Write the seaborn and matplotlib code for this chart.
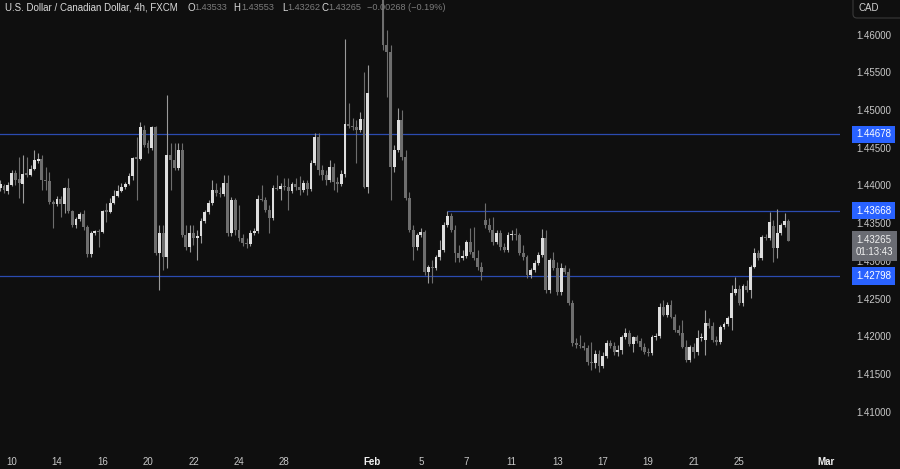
import matplotlib
matplotlib.use("Agg")
import matplotlib.pyplot as plt
import matplotlib.patches as mpatches
import matplotlib.transforms as mtransforms
import numpy as np
import seaborn as sns

# USD/CAD 4h candles, FXCM
opens = [1.4397, 1.4399, 1.4393, 1.4401, 1.4417, 1.4409, 1.4402, 1.4417, 1.4414, 1.4422,
         1.4432, 1.4435, 1.4407, 1.4406, 1.4378, 1.4375, 1.4382, 1.4375, 1.4397, 1.4366,
         1.4348, 1.4356, 1.4362, 1.4345, 1.4309, 1.4337, 1.4340, 1.4338, 1.4368, 1.4365,
         1.4377, 1.4386, 1.4393, 1.4398, 1.4402, 1.4413, 1.4438, 1.4435, 1.4474, 1.4456,
         1.4450, 1.4478, 1.4310, 1.4337, 1.4305, 1.4440, 1.4434, 1.4423, 1.4447, 1.4334,
         1.4318, 1.4337, 1.4330, 1.4333, 1.4353, 1.4365, 1.4377, 1.4394, 1.4390, 1.4389,
         1.4403, 1.4337, 1.4381, 1.4341, 1.4330, 1.4324, 1.4322, 1.4337, 1.4340, 1.4382,
         1.4381, 1.4368, 1.4357, 1.4397, 1.4395, 1.4399, 1.4398, 1.4393, 1.4402, 1.4398,
         1.4394, 1.4403, 1.4395, 1.4430, 1.4464, 1.4421, 1.4414, 1.4407, 1.4425, 1.4405,
         1.4402, 1.4415, 1.4482, 1.4479, 1.4478, 1.4474, 1.4488, 1.4398, 1.4750, 1.4770,
         1.4715, 1.4660, 1.4586, 1.4577, 1.4425, 1.4447, 1.4487, 1.4438, 1.4383, 1.4341,
         1.4318, 1.4334, 1.4338, 1.4285, 1.4292, 1.4291, 1.4305, 1.4315, 1.4348, 1.4360,
         1.4341, 1.4310, 1.4304, 1.4307, 1.4325, 1.4312, 1.4304, 1.4292, 1.4354, 1.4348,
         1.4341, 1.4325, 1.4337, 1.4318, 1.4315, 1.4334, 1.4336, 1.4334, 1.4310, 1.4305,
         1.4281, 1.4288, 1.4297, 1.4308, 1.4330, 1.4261, 1.4301, 1.4291, 1.4259, 1.4291,
         1.4285, 1.4244, 1.4191, 1.4188, 1.4187, 1.4184, 1.4166, 1.4165, 1.4177, 1.4161,
         1.4174, 1.4191, 1.4187, 1.4179, 1.4182, 1.4199, 1.4204, 1.4190, 1.4199, 1.4194,
         1.4186, 1.4179, 1.4178, 1.4199, 1.4200, 1.4239, 1.4228, 1.4242, 1.4226, 1.4208,
         1.4204, 1.4186, 1.4169, 1.4186, 1.4179, 1.4198, 1.4195, 1.4218, 1.4214, 1.4195,
         1.4192, 1.4212, 1.4216, 1.4224, 1.4257, 1.4263, 1.4244, 1.4267, 1.4261, 1.4292,
         1.4310, 1.4304, 1.4332, 1.4330, 1.4346, 1.4317, 1.4337, 1.4348, 1.43533]
highs = [1.4407, 1.4402, 1.4405, 1.4421, 1.4421, 1.4438, 1.4440, 1.4438, 1.4427, 1.4447,
         1.4443, 1.4440, 1.4425, 1.4418, 1.4381, 1.4386, 1.4386, 1.4398, 1.4410, 1.4368,
         1.4358, 1.4365, 1.4368, 1.4348, 1.4340, 1.4341, 1.4342, 1.4368, 1.4377, 1.4383,
         1.4394, 1.4401, 1.4403, 1.4405, 1.4417, 1.4438, 1.4464, 1.4484, 1.4480, 1.4460,
         1.4479, 1.4479, 1.4348, 1.4348, 1.4520, 1.4456, 1.4456, 1.4456, 1.4456, 1.4348,
         1.4348, 1.4348, 1.4341, 1.4357, 1.4368, 1.4381, 1.4407, 1.4403, 1.4398, 1.4414,
         1.4414, 1.4385, 1.4383, 1.4374, 1.4336, 1.4330, 1.4341, 1.4344, 1.4387, 1.4401,
         1.4385, 1.4374, 1.4401, 1.4414, 1.4403, 1.4410, 1.4410, 1.4405, 1.4410, 1.4413,
         1.4407, 1.4407, 1.4434, 1.4470, 1.4470, 1.4427, 1.4421, 1.4434, 1.4430, 1.4411,
         1.4421, 1.4594, 1.4509, 1.4490, 1.4487, 1.4497, 1.4550, 1.4560, 1.4793, 1.4780,
         1.4735, 1.4675, 1.4606, 1.4586, 1.4454, 1.4503, 1.4500, 1.4447, 1.4391, 1.4348,
         1.4337, 1.4344, 1.4341, 1.4295, 1.4301, 1.4308, 1.4328, 1.4352, 1.4366, 1.4364,
         1.4348, 1.4321, 1.4315, 1.4328, 1.4344, 1.4345, 1.4315, 1.4299, 1.4377, 1.4357,
         1.4358, 1.4341, 1.4341, 1.4324, 1.4338, 1.4341, 1.4344, 1.4337, 1.4321, 1.4308,
         1.4291, 1.4301, 1.4312, 1.4342, 1.4341, 1.4304, 1.4312, 1.4299, 1.4297, 1.4295,
         1.4291, 1.4248, 1.4198, 1.4202, 1.4192, 1.4188, 1.4192, 1.4182, 1.4182, 1.4179,
         1.4195, 1.4195, 1.4192, 1.4188, 1.4202, 1.4211, 1.4208, 1.4200, 1.4202, 1.4198,
         1.4191, 1.4184, 1.4202, 1.4204, 1.4244, 1.4248, 1.4246, 1.4248, 1.4230, 1.4215,
         1.4222, 1.4195, 1.4188, 1.4191, 1.4208, 1.4204, 1.4235, 1.4224, 1.4219, 1.4200,
         1.4215, 1.4219, 1.4227, 1.4268, 1.4279, 1.4268, 1.4269, 1.4275, 1.4295, 1.4317,
         1.4315, 1.4334, 1.4336, 1.4365, 1.4354, 1.4369, 1.4350, 1.4364, 1.43553]
lows = [1.4393, 1.4390, 1.4389, 1.4399, 1.4401, 1.4383, 1.4377, 1.4411, 1.4413, 1.4421,
        1.4430, 1.4394, 1.4394, 1.4375, 1.4344, 1.4373, 1.4358, 1.4364, 1.4364, 1.4345,
        1.4344, 1.4353, 1.4341, 1.4305, 1.4305, 1.4334, 1.4318, 1.4337, 1.4352, 1.4364,
        1.4375, 1.4385, 1.4391, 1.4395, 1.4401, 1.4407, 1.4381, 1.4434, 1.4451, 1.4443,
        1.4447, 1.4308, 1.4261, 1.4288, 1.4291, 1.4394, 1.4421, 1.4421, 1.4332, 1.4315,
        1.4312, 1.4321, 1.4301, 1.4324, 1.4350, 1.4362, 1.4374, 1.4386, 1.4385, 1.4386,
        1.4333, 1.4333, 1.4334, 1.4326, 1.4320, 1.4317, 1.4320, 1.4334, 1.4337, 1.4379,
        1.4365, 1.4337, 1.4354, 1.4394, 1.4381, 1.4394, 1.4368, 1.4390, 1.4394, 1.4387,
        1.4391, 1.4387, 1.4393, 1.4427, 1.4414, 1.4407, 1.4401, 1.4405, 1.4394, 1.4391,
        1.4399, 1.4411, 1.4476, 1.4474, 1.4430, 1.4471, 1.4397, 1.4390, 1.4720, 1.4700,
        1.4650, 1.4580, 1.4517, 1.4381, 1.4418, 1.4444, 1.4434, 1.4381, 1.4338, 1.4301,
        1.4315, 1.4332, 1.4281, 1.4271, 1.4271, 1.4288, 1.4301, 1.4312, 1.4345, 1.4338,
        1.4299, 1.4299, 1.4301, 1.4304, 1.4309, 1.4301, 1.4288, 1.4275, 1.4344, 1.4338,
        1.4321, 1.4322, 1.4315, 1.4312, 1.4312, 1.4328, 1.4328, 1.4308, 1.4301, 1.4277,
        1.4277, 1.4285, 1.4295, 1.4305, 1.4257, 1.4257, 1.4288, 1.4255, 1.4255, 1.4283,
        1.4242, 1.4187, 1.4184, 1.4184, 1.4182, 1.4162, 1.4155, 1.4158, 1.4153, 1.4158,
        1.4171, 1.4184, 1.4175, 1.4174, 1.4177, 1.4196, 1.4187, 1.4179, 1.4191, 1.4182,
        1.4177, 1.4174, 1.4175, 1.4195, 1.4198, 1.4227, 1.4226, 1.4224, 1.4206, 1.4202,
        1.4184, 1.4166, 1.4166, 1.4171, 1.4175, 1.4194, 1.4175, 1.4211, 1.4192, 1.4188,
        1.4190, 1.4210, 1.4214, 1.4208, 1.4255, 1.4242, 1.4240, 1.4259, 1.4251, 1.4291,
        1.4301, 1.4301, 1.4328, 1.4328, 1.4299, 1.4304, 1.4334, 1.4345, 1.43262]
closes = [1.4402, 1.4394, 1.4401, 1.4417, 1.4407, 1.4403, 1.4415, 1.4414, 1.4422, 1.4434,
          1.4435, 1.4407, 1.4406, 1.4378, 1.4375, 1.4382, 1.4375, 1.4397, 1.4366, 1.4348,
          1.4356, 1.4362, 1.4345, 1.4309, 1.4337, 1.4340, 1.4338, 1.4366, 1.4365, 1.4377,
          1.4386, 1.4393, 1.4398, 1.4402, 1.4413, 1.4436, 1.4435, 1.4478, 1.4454, 1.4450,
          1.4478, 1.4310, 1.4337, 1.4305, 1.4440, 1.4434, 1.4423, 1.4447, 1.4334, 1.4318,
          1.4337, 1.4330, 1.4333, 1.4353, 1.4365, 1.4377, 1.4394, 1.4390, 1.4389, 1.4403,
          1.4337, 1.4381, 1.4341, 1.4330, 1.4324, 1.4322, 1.4337, 1.4340, 1.4382, 1.4381,
          1.4368, 1.4357, 1.4397, 1.4395, 1.4399, 1.4398, 1.4393, 1.4402, 1.4398, 1.4394,
          1.4403, 1.4395, 1.4430, 1.4464, 1.4421, 1.4414, 1.4407, 1.4425, 1.4405, 1.4402,
          1.4415, 1.4482, 1.4479, 1.4478, 1.4474, 1.4488, 1.4398, 1.4523, 1.4770, 1.4715,
          1.4660, 1.4586, 1.4577, 1.4425, 1.4447, 1.4487, 1.4438, 1.4383, 1.4341, 1.4318,
          1.4334, 1.4338, 1.4285, 1.4292, 1.4291, 1.4305, 1.4315, 1.4348, 1.4360, 1.4341,
          1.4310, 1.4304, 1.4307, 1.4325, 1.4312, 1.4304, 1.4292, 1.4285, 1.4348, 1.4341,
          1.4325, 1.4337, 1.4318, 1.4315, 1.4334, 1.4336, 1.4334, 1.4310, 1.4305, 1.4281,
          1.4288, 1.4297, 1.4308, 1.4330, 1.4261, 1.4301, 1.4291, 1.4259, 1.4291, 1.4285,
          1.4244, 1.4191, 1.4188, 1.4187, 1.4184, 1.4166, 1.4165, 1.4177, 1.4161, 1.4174,
          1.4191, 1.4187, 1.4179, 1.4182, 1.4199, 1.4204, 1.4190, 1.4199, 1.4194, 1.4186,
          1.4179, 1.4178, 1.4199, 1.4200, 1.4239, 1.4228, 1.4242, 1.4226, 1.4208, 1.4204,
          1.4186, 1.4169, 1.4186, 1.4179, 1.4198, 1.4199, 1.4218, 1.4214, 1.4195, 1.4192,
          1.4212, 1.4216, 1.4224, 1.4257, 1.4263, 1.4244, 1.4267, 1.4261, 1.4292, 1.4310,
          1.4304, 1.4332, 1.4330, 1.4352, 1.4317, 1.4337, 1.4348, 1.4353, 1.43265]

levels = [1.44678, 1.43668, 1.42798]
level_from = [-1, 118, -1]          # bar where each level line starts
day_bars = [3, 15, 27, 39, 51, 63, 75, 98, 111, 123, 135, 147, 159, 171, 183, 195, 218]
day_names = ["10", "14", "16", "20", "22", "24", "28", "Feb", "5", "7",
             "11", "13", "17", "19", "21", "25", "Mar"]
last_price = 1.43265
countdown = "01:13:43"

bg = "#0f0f0f"
sns.set_style("dark", {"axes.facecolor": bg, "figure.facecolor": bg})
plt.rcParams["font.family"] = ["Liberation Sans", "DejaVu Sans"]

fig = plt.figure(figsize=(9, 4.69), dpi=100)
ax = fig.add_axes([0, 19 / 469, 840 / 900, 450 / 469])

o = np.array(opens)
h = np.array(highs)
l = np.array(lows)
c = np.array(closes)
x = np.arange(len(o))
up = c >= o
body_col = np.where(up, "#dedede", "#6e6e6e")
wick_col = np.where(up, "#9a9a9a", "#6e6e6e")

ax.vlines(x, l, h, colors=wick_col, lw=0.8, zorder=2)
ax.bar(x, np.maximum(np.abs(c - o), 0.00012), bottom=np.minimum(o, c),
       width=0.76, color=body_col, linewidth=0, zorder=3)

xmax = 221.6
ax.hlines(levels, level_from, xmax, colors="#2b4bb0", lw=0.9, zorder=1)

ax.set_xlim(-0.05, xmax)
ax.set_ylim(1.40492, 1.46460)
for s in ax.spines.values():
    s.set_visible(False)
ax.grid(False)

# price scale
ax.yaxis.tick_right()
ax.set_yticks(np.arange(1.41, 1.46001, 0.005))
ax.yaxis.set_major_formatter(matplotlib.ticker.FormatStrFormatter("%.5f"))
ax.tick_params(axis="y", length=0, pad=12, labelsize=7, labelcolor="#c8c8c8")

# time scale
ax.set_xticks(day_bars)
ax.set_xticklabels(day_names)
ax.tick_params(axis="x", length=0, pad=5, labelsize=7, labelcolor="#c8c8c8")
for t in ax.get_xticklabels():
    if t.get_text() in ("Feb", "Mar"):
        t.set_fontweight("bold")
        t.set_color("#f0f0f0")

tr = mtransforms.blended_transform_factory(ax.transAxes, ax.transData)
lab_x = 1 + 16 / 840
for lv in levels:
    ax.text(lab_x, lv, f"{lv:.5f}", transform=tr, fontsize=7, color="white",
            va="center", ha="left", clip_on=False, zorder=6,
            bbox=dict(boxstyle="square,pad=0.38", fc="#2962ff", ec="none"))

tr_last = mtransforms.offset_copy(tr, fig=fig, y=6, units="dots")
ax.text(lab_x, last_price, f"{last_price:.5f}\n{countdown}", transform=tr_last,
        fontsize=7, color="#f0f0f0", va="top", ha="left", linespacing=1.25,
        clip_on=False, zorder=6,
        bbox=dict(boxstyle="square,pad=0.38", fc="#6a6c73", ec="none"))

# header
def hdr(px, s, col, size=7):
    fig.text(px / 900, 1 - 8 / 469, s, fontsize=size, color=col, va="center", ha="left")

hdr(5, "U.S. Dollar / Canadian Dollar, 4h, FXCM", "#dadada")
for px, vx, letter, val in [(187, 194, "O", opens[-1]), (233, 241, "H", highs[-1]),
                            (282, 287, "L", lows[-1]), (321, 328, "C", closes[-1])]:
    hdr(px, letter, "#dadada")
    hdr(vx, f"{val:.5f}", "#7c7c7c", 6.6)
chg = closes[-1] - opens[-1]
hdr(367, f"\u2212{abs(chg):.5f} (\u2212{abs(chg) / opens[-1] * 100:.2f}%)", "#7c7c7c", 6.6)

# currency button, top right (pixel coordinates)
fig.patches.append(mpatches.FancyBboxPatch((853, 451), 60, 26,
                                           boxstyle="round,pad=0,rounding_size=4",
                                           fc=bg, ec="#3a3a3a", lw=0.8,
                                           transform=None, figure=fig))
fig.text(869 / 900, 1 - 8 / 469, "CAD", fontsize=7, color="#d0d0d0",
         ha="center", va="center")

fig.savefig("out.png", dpi=100, facecolor=bg)
